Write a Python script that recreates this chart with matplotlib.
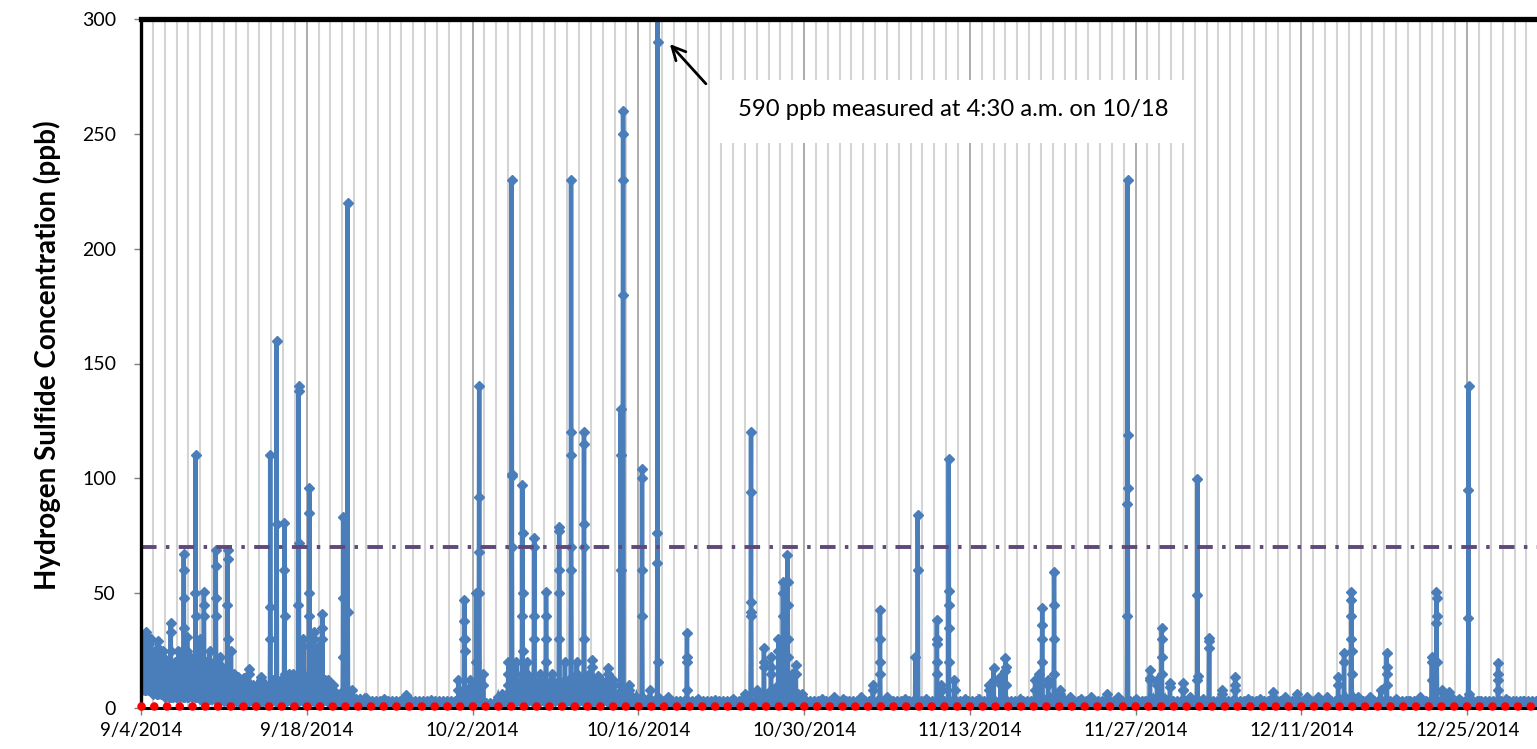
import matplotlib
matplotlib.use('Agg')
import matplotlib.pyplot as plt
import matplotlib.dates as mdates
from matplotlib.patches import Rectangle

plt.rcParams['font.family'] = ['Lato', 'DejaVu Sans']

START = '2014-09-04'
# daily baseline (low, high) readings in ppb, day 0 = 9/4/2014
base_lo = [8, 6, 5, 5, 5, 4, 4, 3, 3, 3, 3, 3, 3, 3, 3, 3, 2, 2, 2, 1.5,
           1.5, 1.5, 1.5, 1.5, 1.5, 1.5, 1.5, 2, 2, 1, 2, 3, 3, 3, 3, 3,
           3, 3, 3, 3, 2, 2, 2, 1.5, 1.5, 1.5, 1.5, 1.5, 1.5, 1.5, 1.5, 1.5,
           1.5, 1.5, 1.5, 1.5, 1.5, 1.5, 1.5, 1.5, 1.5, 1.5, 1.5, 1.5, 1.5, 1.5,
           1.5, 1.5, 1.5, 1.5, 1.5, 1.5, 1.5, 1.5, 1.5, 1.5, 1.5, 1.5, 1.5, 1.5,
           1.5, 1.5, 1.5, 1.5, 1.5, 1.5, 1.5, 1.5, 1.5, 1.5, 1.5, 1.5, 1.5, 1.5,
           1.5, 1.5, 1.5, 1.5, 1.5, 1.5, 1.5, 1.5, 1.5, 1.5, 1.5, 1.5, 1.5, 1.5,
           1.5, 1.5, 1.5, 1.5, 1.5, 1.5, 1.5, 1.5, 1.5, 1.5]
base_hi = [30, 25, 20, 25, 22, 20, 18, 15, 12, 10, 10, 12, 15, 12, 15, 12, 6, 8, 4, 3,
           3, 3, 3, 3, 3, 3, 3, 8, 10, 2, 5, 10, 12, 10, 10, 10,
           12, 12, 12, 10, 6, 5, 4, 3, 3, 3, 3, 3, 3, 3, 3, 3,
           6, 8, 8, 6, 3, 3, 3, 3, 3, 3, 3, 3, 3, 3,
           3, 3, 3, 3, 3, 3, 3, 3, 3, 3, 4, 4, 3, 3,
           3, 3, 3, 3, 3, 4, 4, 3, 3, 3, 3, 3, 3, 3,
           3, 3, 3, 3, 3, 3, 3, 4, 4, 3, 3, 3, 3, 3,
           3, 3, 4, 3, 3, 3, 3, 3, 3, 3]
# short pollution events: (day offset, consecutive readings in ppb)
spikes = [
    (0.05, [20, 12]), (0.4, [28, 33, 31]), (0.7, [30, 28]), (1.4, [29, 26]),
    (1.9, [22, 20]), (2.5, [25, 37, 33]), (3.0, [20]), (3.6, [48, 67, 60, 35]),
    (3.9, [31, 25]), (4.6, [50, 110, 40]), (5.0, [30, 26]), (5.3, [40, 50.7, 45]),
    (5.8, [25, 20]), (6.3, [48, 69, 62, 40]), (6.7, [22]), (7.3, [45, 69, 65, 30]),
    (7.6, [25]), (8.2, [12, 13.5]), (8.7, [13, 13]), (9.1, [17, 15]),
    (10.1, [13.6, 12]), (10.9, [30, 110, 44]), (11.45, [160, 80]),
    (12.1, [60, 80.6, 40]), (12.7, [10]), (13.3, [45, 140, 138, 72]),
    (13.7, [27, 30]), (14.2, [50, 95.8, 85, 40]), (14.6, [30, 33]),
    (15.0, [24, 27]), (15.3, [35, 41, 30]), (16.2, [10, 8]),
    (17.05, [22, 48, 83]), (17.45, [220, 42]),
    (19.0, [4.5]), (20.5, [4]), (22.4, [5.6, 5]), (24.5, [3.5]),
    (26.8, [8, 12]), (27.3, [30, 47, 38, 30, 25]), (27.8, [12, 9]),
    (28.3, [20, 50]), (28.55, [92, 140, 68, 50]), (28.9, [15, 10]),
    (30.5, [4, 6]), (31.0, [10, 15, 20]), (31.3, [101, 230, 102, 70]),
    (31.7, [15, 20]), (32.2, [40, 97, 76, 50, 25]), (32.6, [20, 15]),
    (33.2, [40, 74, 70, 30]), (33.7, [15, 12]), (34.2, [30, 50.7, 40, 20]),
    (34.7, [15, 12]), (35.3, [50, 79, 77, 60, 30]), (35.8, [20, 12]),
    (36.3, [60, 120, 230, 110, 70]), (36.8, [20, 15]),
    (37.4, [80, 120, 115, 70, 30]), (37.8, [15, 12]), (38.1, [21, 18]),
    (38.6, [14, 12]), (39.4, [17.5, 15]), (39.9, [12, 10]),
    (40.5, [60, 130, 110]), (40.7, [230, 260, 250, 180]), (41.2, [10, 8]),
    (42.3, [60, 104, 100, 40]), (43.0, [8]), (43.6, [63, 76, 590, 290, 20, 5]),
    (44.5, [4, 5]), (46.1, [20, 32.5, 22, 8]), (47.0, [4]), (48.5, [3.5]),
    (50.0, [4]), (51.0, [5, 6]), (51.5, [40, 94, 120, 46, 42]), (52.0, [6, 8]),
    (52.6, [20, 26, 18]), (53.2, [15, 22, 18]), (53.8, [10, 25, 30]),
    (54.2, [40, 50, 55]), (54.6, [66.7, 55, 45, 30, 22]), (55.0, [15, 12]),
    (55.3, [18.7, 15]), (56.0, [4]), (57.5, [4]),
    (58.5, [5]), (59.3, [4]), (60.8, [5]), (61.8, [8, 10]),
    (62.4, [20, 42.7, 30, 15]), (63.0, [5]), (64.5, [4]), (65.4, [22]),
    (65.6, [84, 60]), (66.3, [4]), (67.2, [20, 30, 38.3, 28, 15]),
    (67.6, [10, 8]), (68.2, [35, 51, 108.5, 45, 20]), (68.7, [12, 8]),
    (69.6, [4]), (70.8, [4]), (71.6, [10, 8]), (72.0, [12, 17.4, 12]),
    (72.6, [10, 14]), (73.0, [16, 21.8, 18, 10]), (74.2, [4]),
    (75.5, [8, 12]), (75.8, [12, 15]), (76.1, [30, 43.5, 36, 20]),
    (76.6, [10, 12]), (77.1, [30, 59.4, 45, 15]), (77.6, [8, 6]),
    (78.5, [5]), (79.4, [4]), (80.2, [5]), (81.6, [6]), (82.5, [4, 5]),
    (83.3, [40, 89, 230, 119, 96]), (84.0, [4]), (85.2, [12, 16.5, 13]),
    (85.8, [10, 12]), (86.2, [22, 34.8, 30, 15]), (86.9, [11, 9]),
    (88.0, [8, 11, 8]), (88.6, [5]), (89.2, [12, 49, 99.7, 14]), (89.7, [4]),
    (90.2, [26, 30.4, 29]), (91.3, [8, 6]), (92.4, [13.7, 10, 8]),
    (93.5, [4]), (94.5, [4]), (95.6, [7, 5]), (96.6, [5]), (97.6, [6]),
    (98.5, [5]), (99.4, [5]), (100.2, [5]), (101.1, [13.7, 10]),
    (101.6, [24, 20]), (102.2, [30, 50.7, 47, 40, 25, 15]), (102.8, [5]),
    (103.8, [5]), (104.7, [8]), (105.2, [15, 24, 18, 10]), (106.0, [4]),
    (107.0, [3]), (108.0, [5]), (109.0, [12, 20, 22]),
    (109.4, [37, 50.7, 48, 40, 20]), (109.9, [7, 8]), (110.5, [7]),
    (111.3, [4]), (112.1, [39, 95, 140, 6]), (113.0, [3]),
    (114.6, [12, 19.6, 15, 8]), (115.3, [4]), (116.7, [3]), (117.5, [3]),
]
tick_dates = ['2014-09-04', '2014-09-18', '2014-10-02', '2014-10-16', '2014-10-30',
              '2014-11-13', '2014-11-27', '2014-12-11', '2014-12-25']
tick_labels = ['9/4/2014', '9/18/2014', '10/2/2014', '10/16/2014', '10/30/2014',
               '11/13/2014', '11/27/2014', '12/11/2014', '12/25/2014']
y_ticks = [0, 50, 100, 150, 200, 250, 300]
standard_ppb = 70
zero_line_ppb = 1.0
note = '590 ppb measured at 4:30 a.m. on 10/18'
ylabel = 'Hydrogen Sulfide Concentration (ppb)'

# ---- build the time series ----
t0 = mdates.datestr2num(START)
step = 0.01
windows = []
pts = []
for day, vals in spikes:
    d = int(day)
    b = base_lo[d]
    end = day + step * (len(vals) - 1)
    windows.append((day - 0.03, end + 0.03))
    pts.append((day - 0.03, b))
    for i, v in enumerate(vals):
        pts.append((day + i * step, v))
    pts.append((end + 0.03, b))
for d in range(len(base_lo)):
    for k in range(6):
        t = d + k / 6
        if any(a <= t <= c for a, c in windows):
            continue
        pts.append((t, base_lo[d] if k % 2 == 0 else base_hi[d]))
pts.sort()
xs = [t0 + p[0] for p in pts]
ys = [p[1] for p in pts]

fig = plt.figure(figsize=(15.37, 7.49), dpi=100)
ax = fig.add_axes([141 / 1537, 1 - 708 / 749, 1 - 141 / 1537, (708 - 19) / 749])

ax.plot(xs, ys, color='#4A7EBB', lw=3.2, marker='D', ms=5, mec='#4A7EBB',
        mfc='#4A7EBB', zorder=3, solid_joinstyle='miter')
ax.axhline(standard_ppb, color='#5F497A', lw=2.8,
           linestyle=(0, (4.0, 2.4, 0.9, 2.4)), zorder=4)
ax.axhline(zero_line_ppb, color='#FF0000', lw=6.2, linestyle=(0, (0.01, 1.47)),
           dash_capstyle='round', zorder=8, clip_on=False)

ax.set_ylim(0, 300)
ax.set_xlim(t0, t0 + 117.9)
ax.set_yticks(y_ticks)
ax.set_yticklabels([str(v) for v in y_ticks], fontsize=14)
ax.set_xticks([mdates.datestr2num(d) for d in tick_dates])
ax.set_xticklabels(tick_labels, fontsize=13.5)
ax.xaxis.set_minor_locator(mdates.DayLocator())
ax.set_axisbelow(True)
ax.grid(which='minor', axis='x', color='#d4d4d4', lw=1.5)
ax.grid(which='major', axis='x', color='#a6a6a6', lw=1.3)
ax.grid(which='major', axis='y', visible=False)
ax.tick_params(axis='x', which='minor', length=0)
ax.tick_params(axis='x', which='major', length=5, width=1, color='#808080',
               direction='out', pad=5)
ax.tick_params(axis='y', which='major', length=5, width=1, color='#808080',
               direction='out', pad=13)

ax.spines['right'].set_visible(False)
ax.spines['left'].set_linewidth(2.4)
ax.spines['top'].set_linewidth(3.8)
ax.spines['bottom'].set_linewidth(2.2)
for s in ax.spines.values():
    s.set_color('black')
    s.set_zorder(6)

ax.add_patch(Rectangle((0.411, 0.820), 0.3367, 0.0914, transform=ax.transAxes,
                       facecolor='white', edgecolor='none', zorder=1.5))
ax.text(0.5815, 0.868, note, transform=ax.transAxes, ha='center', va='center',
        fontsize=17.2, zorder=7)
ax.annotate('', xy=(0.3775, 0.9666), xytext=(0.406, 0.903),
            xycoords='axes fraction', textcoords='axes fraction',
            arrowprops=dict(arrowstyle='->', color='black', lw=2.0,
                            mutation_scale=24), zorder=7)

fig.text(47 / 1537, 1 - 355 / 749, ylabel, rotation=90, ha='center', va='center',
         fontsize=20, fontweight='bold')

fig.savefig('out.png', dpi=100)
